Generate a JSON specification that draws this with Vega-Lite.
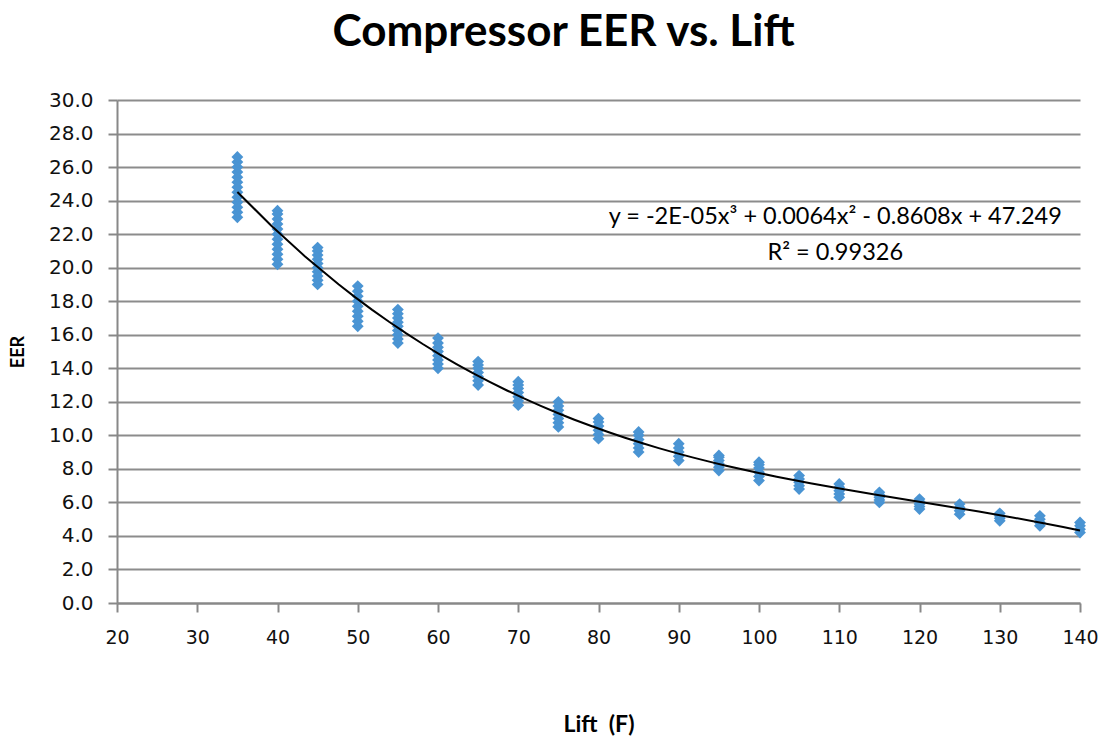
{
  "$schema": "https://vega.github.io/schema/vega-lite/v6.json",
  "width": 963,
  "height": 503,
  "autosize": {"type": "none"},
  "padding": {"left": 117, "top": 100, "right": 24, "bottom": 139},
  "background": "white",
  "config": {
    "view": {"stroke": null},
    "font": "Lato"
  },
  "title": {
    "text": "Compressor EER vs. Lift",
    "font": "Lato",
    "fontSize": 44,
    "fontWeight": "bold",
    "color": "#000000",
    "anchor": "middle",
    "dx": -35,
    "offset": 35
  },
  "datasets": {
    "pts": [
      {"lift": 35, "eer": 23.0}, {"lift": 35, "eer": 23.3}, {"lift": 35, "eer": 23.6}, {"lift": 35, "eer": 23.9}, {"lift": 35, "eer": 24.2}, {"lift": 35, "eer": 24.5}, {"lift": 35, "eer": 24.8}, {"lift": 35, "eer": 25.1}, {"lift": 35, "eer": 25.4}, {"lift": 35, "eer": 25.7}, {"lift": 35, "eer": 26.0}, {"lift": 35, "eer": 26.3}, {"lift": 35, "eer": 26.6},
      {"lift": 40, "eer": 20.2}, {"lift": 40, "eer": 20.5}, {"lift": 40, "eer": 20.8}, {"lift": 40, "eer": 21.1}, {"lift": 40, "eer": 21.4}, {"lift": 40, "eer": 21.7}, {"lift": 40, "eer": 22.0}, {"lift": 40, "eer": 22.3}, {"lift": 40, "eer": 22.6}, {"lift": 40, "eer": 22.9}, {"lift": 40, "eer": 23.2}, {"lift": 40, "eer": 23.4},
      {"lift": 45, "eer": 19.0}, {"lift": 45, "eer": 19.25}, {"lift": 45, "eer": 19.5}, {"lift": 45, "eer": 19.75}, {"lift": 45, "eer": 20.0}, {"lift": 45, "eer": 20.25}, {"lift": 45, "eer": 20.5}, {"lift": 45, "eer": 20.75}, {"lift": 45, "eer": 21.0}, {"lift": 45, "eer": 21.2},
      {"lift": 50, "eer": 16.5}, {"lift": 50, "eer": 16.8}, {"lift": 50, "eer": 17.1}, {"lift": 50, "eer": 17.4}, {"lift": 50, "eer": 17.7}, {"lift": 50, "eer": 18.0}, {"lift": 50, "eer": 18.3}, {"lift": 50, "eer": 18.6}, {"lift": 50, "eer": 18.9},
      {"lift": 55, "eer": 15.5}, {"lift": 55, "eer": 15.75}, {"lift": 55, "eer": 16.0}, {"lift": 55, "eer": 16.25}, {"lift": 55, "eer": 16.5}, {"lift": 55, "eer": 16.75}, {"lift": 55, "eer": 17.0}, {"lift": 55, "eer": 17.25}, {"lift": 55, "eer": 17.5},
      {"lift": 60, "eer": 14.0}, {"lift": 60, "eer": 14.25}, {"lift": 60, "eer": 14.5}, {"lift": 60, "eer": 14.75}, {"lift": 60, "eer": 15.0}, {"lift": 60, "eer": 15.25}, {"lift": 60, "eer": 15.5}, {"lift": 60, "eer": 15.8},
      {"lift": 65, "eer": 13.0}, {"lift": 65, "eer": 13.25}, {"lift": 65, "eer": 13.5}, {"lift": 65, "eer": 13.75}, {"lift": 65, "eer": 14.0}, {"lift": 65, "eer": 14.2}, {"lift": 65, "eer": 14.4},
      {"lift": 70, "eer": 11.8}, {"lift": 70, "eer": 12.05}, {"lift": 70, "eer": 12.3}, {"lift": 70, "eer": 12.55}, {"lift": 70, "eer": 12.8}, {"lift": 70, "eer": 13.0}, {"lift": 70, "eer": 13.2},
      {"lift": 75, "eer": 10.5}, {"lift": 75, "eer": 10.75}, {"lift": 75, "eer": 11.0}, {"lift": 75, "eer": 11.25}, {"lift": 75, "eer": 11.5}, {"lift": 75, "eer": 11.75}, {"lift": 75, "eer": 12.0},
      {"lift": 80, "eer": 9.8}, {"lift": 80, "eer": 10.05}, {"lift": 80, "eer": 10.3}, {"lift": 80, "eer": 10.55}, {"lift": 80, "eer": 10.8}, {"lift": 80, "eer": 11.0},
      {"lift": 85, "eer": 9.0}, {"lift": 85, "eer": 9.25}, {"lift": 85, "eer": 9.5}, {"lift": 85, "eer": 9.75}, {"lift": 85, "eer": 10.0}, {"lift": 85, "eer": 10.2},
      {"lift": 90, "eer": 8.5}, {"lift": 90, "eer": 8.75}, {"lift": 90, "eer": 9.0}, {"lift": 90, "eer": 9.25}, {"lift": 90, "eer": 9.5},
      {"lift": 95, "eer": 7.9}, {"lift": 95, "eer": 8.1}, {"lift": 95, "eer": 8.3}, {"lift": 95, "eer": 8.5}, {"lift": 95, "eer": 8.7}, {"lift": 95, "eer": 8.8},
      {"lift": 100, "eer": 7.3}, {"lift": 100, "eer": 7.55}, {"lift": 100, "eer": 7.8}, {"lift": 100, "eer": 8.05}, {"lift": 100, "eer": 8.25}, {"lift": 100, "eer": 8.4},
      {"lift": 105, "eer": 6.8}, {"lift": 105, "eer": 7.0}, {"lift": 105, "eer": 7.2}, {"lift": 105, "eer": 7.4}, {"lift": 105, "eer": 7.6},
      {"lift": 110, "eer": 6.3}, {"lift": 110, "eer": 6.5}, {"lift": 110, "eer": 6.7}, {"lift": 110, "eer": 6.9}, {"lift": 110, "eer": 7.1},
      {"lift": 115, "eer": 6.0}, {"lift": 115, "eer": 6.15}, {"lift": 115, "eer": 6.3}, {"lift": 115, "eer": 6.45}, {"lift": 115, "eer": 6.6},
      {"lift": 120, "eer": 5.6}, {"lift": 120, "eer": 5.75}, {"lift": 120, "eer": 5.9}, {"lift": 120, "eer": 6.05}, {"lift": 120, "eer": 6.2},
      {"lift": 125, "eer": 5.3}, {"lift": 125, "eer": 5.5}, {"lift": 125, "eer": 5.7}, {"lift": 125, "eer": 5.9},
      {"lift": 130, "eer": 4.9}, {"lift": 130, "eer": 5.05}, {"lift": 130, "eer": 5.2}, {"lift": 130, "eer": 5.35},
      {"lift": 135, "eer": 4.6}, {"lift": 135, "eer": 4.8}, {"lift": 135, "eer": 5.0}, {"lift": 135, "eer": 5.2},
      {"lift": 140, "eer": 4.2}, {"lift": 140, "eer": 4.4}, {"lift": 140, "eer": 4.6}, {"lift": 140, "eer": 4.8}
    ],
    "notes": [
      {"lift": 109.5, "eer": 23.0, "label": "y = -2E-05x³ + 0.0064x² - 0.8608x + 47.249"},
      {"lift": 109.5, "eer": 20.9, "label": "R² = 0.99326"}
    ]
  },
  "data": {"name": "pts"},
  "encoding": {
    "x": {
      "field": "lift", "type": "quantitative",
      "scale": {"domain": [20, 140], "nice": false, "zero": false},
      "axis": {
        "title": "Lift\u00a0\u00a0(F)", "titleFont": "Lato", "titleFontSize": 23, "titleFontWeight": "bold", "titleColor": "#000",
        "titlePadding": 66,
        "values": [20, 30, 40, 50, 60, 70, 80, 90, 100, 110, 120, 130, 140],
        "labelOverlap": false, "labelFlush": false,
        "labelFont": "DejaVu Sans", "labelFontSize": 19, "labelColor": "#111", "labelPadding": 16,
        "grid": false, "domainColor": "#888", "domainWidth": 2, "tickColor": "#888", "tickWidth": 2, "tickSize": 9
      }
    },
    "y": {
      "field": "eer", "type": "quantitative",
      "scale": {"domain": [0, 30], "nice": false},
      "axis": {
        "title": "EER", "titleFont": "Lato", "titleFontSize": 18, "titleFontWeight": "bold", "titleColor": "#000",
        "titlePadding": 21,
        "values": [0, 2, 4, 6, 8, 10, 12, 14, 16, 18, 20, 22, 24, 26, 28, 30],
        "labelOverlap": false, "labelFlush": false,
        "format": ".1f",
        "labelFont": "DejaVu Sans", "labelFontSize": 20, "labelColor": "#111", "labelPadding": 15,
        "grid": true, "gridColor": "#8c8c8c", "gridWidth": 2,
        "domainColor": "#888", "domainWidth": 2, "tickColor": "#888", "tickWidth": 2, "tickSize": 9
      }
    }
  },
  "layer": [
    {
      "mark": {"type": "point", "shape": "diamond", "filled": true, "size": 140, "color": "#4A94D3", "opacity": 1}
    },
    {
      "transform": [{"regression": "eer", "on": "lift", "method": "poly", "order": 3, "extent": [35, 140]}],
      "mark": {"type": "line", "color": "#000000", "strokeWidth": 2}
    },
    {
      "data": {"name": "notes"},
      "mark": {"type": "text", "font": "Lato", "fontSize": 23.5, "color": "#000", "align": "center", "baseline": "middle"},
      "encoding": {
        "text": {"field": "label"}
      }
    }
  ]
}
